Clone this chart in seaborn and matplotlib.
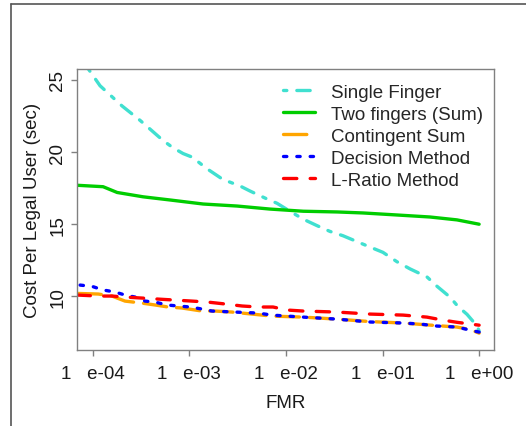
import numpy as np
import matplotlib
matplotlib.use("Agg")
import matplotlib.pyplot as plt
import seaborn as sns
from matplotlib.lines import Line2D

sns.set_style("white")
plt.rcParams['font.family'] = ['Liberation Sans', 'DejaVu Sans']

# values (FMR on log scale, cost in seconds)
single_fmr = [8.93e-5, 1.19e-4, 2.01e-4, 3.09e-4, 5.35e-4, 6.78e-4, 8.61e-4, 1.07e-3,
              1.52e-3, 2.23e-3, 3.35e-3, 4.25e-3, 6.37e-3, 8.09e-3, 1.10e-2, 1.51e-2,
              2.10e-2, 2.86e-2, 3.90e-2, 6.92e-2, 0.101, 0.141, 0.193, 0.288, 0.366,
              0.499, 0.604, 0.750, 0.95, 1.0]
single_cost = [25.8, 24.6, 23.2, 22.2, 20.8, 20.3, 19.9, 19.65, 18.85, 18.1, 17.65, 17.3,
               16.75, 16.45, 15.9, 15.35, 14.9, 14.5, 14.2, 13.5, 13.05, 12.4, 11.9, 11.35,
               10.7, 9.95, 9.3, 8.75, 7.95, 7.6]

two_fmr = [6.88e-5, 1.28e-4, 1.79e-4, 3.32e-4, 6.31e-4, 1.39e-3, 3.12e-3, 6.84e-3,
           1.51e-2, 3.38e-2, 6.28e-2, 0.141, 0.310, 0.590, 1.0]
two_cost = [17.7, 17.6, 17.2, 16.9, 16.68, 16.4, 16.26, 16.05, 15.9, 15.85, 15.78, 15.64,
            15.5, 15.3, 15.0]

cont_fmr = [7.05e-5, 1.14e-4, 1.58e-4, 2.16e-4, 3.24e-4, 4.42e-4, 6.03e-4, 8.40e-4,
            1.35e-3, 1.85e-3, 2.77e-3, 4.46e-3, 7.18e-3, 1.51e-2, 3.38e-2, 7.43e-2,
            0.163, 0.366, 0.590, 0.805, 1.0]
cont_cost = [10.2, 10.16, 10.02, 9.67, 9.53, 9.4, 9.26, 9.19, 8.98, 8.98, 8.91, 8.77,
             8.63, 8.56, 8.42, 8.25, 8.15, 7.97, 7.87, 7.7, 7.45]

dec_fmr = [7.40e-5, 9.84e-5, 1.28e-4, 1.70e-4, 2.16e-4, 2.74e-4, 3.48e-4, 4.42e-4,
           5.87e-4, 7.64e-4, 1.02e-3, 1.35e-3, 1.72e-3, 2.97e-3, 5.14e-3, 7.18e-3,
           1.03e-2, 1.51e-2, 3.38e-2, 7.43e-2, 0.163, 0.244, 0.366, 0.590, 0.805, 1.0]
dec_cost = [10.78, 10.69, 10.44, 10.3, 10.09, 9.95, 9.67, 9.6, 9.4, 9.33, 9.26, 9.12,
            8.98, 8.91, 8.84, 8.7, 8.63, 8.56, 8.42, 8.22, 8.15, 8.08, 7.94, 7.87, 7.66, 7.52]

lr_fmr = [6.88e-5, 1.14e-4, 1.58e-4, 2.16e-4, 3.24e-4, 4.74e-4, 7.11e-4, 1.07e-3,
          1.56e-3, 2.34e-3, 3.52e-3, 5.14e-3, 7.35e-3, 1.03e-2, 1.51e-2, 3.38e-2,
          7.43e-2, 0.163, 0.288, 0.423, 0.590, 1.0]
lr_cost = [10.09, 10.02, 10.02, 9.95, 9.88, 9.81, 9.74, 9.67, 9.6, 9.47, 9.33, 9.26,
           9.26, 9.05, 8.98, 8.91, 8.77, 8.7, 8.56, 8.35, 8.2, 8.0]

xticks = [1e-4, 1e-3, 1e-2, 1e-1, 1e0]
xtick_labels = ["1   e-04", "1   e-03", "1   e-02", "1   e-01", "1   e+00"]
yticks = [10, 15, 20, 25]

series = [
    ("Single Finger", single_fmr, single_cost, "#40E0D0", (0, (1, 3, 4, 3))),
    ("Two fingers (Sum)", two_fmr, two_cost, "#00CD00", "-"),
    ("Contingent Sum", cont_fmr, cont_cost, "#FFA500", (0, (7, 3))),
    ("Decision Method", dec_fmr, dec_cost, "#0000FF", (0, (1, 3))),
    ("L-Ratio Method", lr_fmr, lr_cost, "#FF0000", (0, (4, 4))),
]

fs = 13.5
fig = plt.figure(figsize=(5.26, 4.27), dpi=100)
ax = fig.add_axes([76.7 / 526, 1 - 351 / 427, (494 - 76.7) / 526, (351 - 70) / 427])

for name, xs, ys, col, ls in series:
    sns.lineplot(x=xs, y=ys, ax=ax, color=col, linewidth=2.4, linestyle=ls,
                 label=name, sort=False, estimator=None,
                 dash_capstyle="round", solid_capstyle="round")

ax.set_xscale("log")
ax.set_xlim(10 ** -4.166, 10 ** 0.154)
ax.set_ylim(6.28, 25.76)
ax.set_xticks(xticks)
ax.set_xticklabels(xtick_labels)
ax.minorticks_off()
ax.set_yticks(yticks)
ax.set_yticklabels([str(v) for v in yticks], rotation=90, va="center")

for s in ax.spines.values():
    s.set_color("#808080")
    s.set_linewidth(1.0)
ax.tick_params(axis="both", length=4.5, width=1.0, color="#808080",
               labelsize=fs, labelcolor="#1a1a1a", left=True, bottom=True)
ax.tick_params(axis="x", pad=6)
ax.tick_params(axis="y", pad=3)

ax.set_xlabel("FMR", fontsize=fs, color="#1a1a1a", labelpad=9)
ax.set_ylabel("Cost Per Legal User (sec)", fontsize=fs, color="#1a1a1a", labelpad=6)

ax.legend(loc="upper left", bbox_to_anchor=(0.494, 0.947), frameon=False,
          fontsize=fs, handlelength=1.7, handletextpad=0.85, labelspacing=0.26,
          borderpad=0, borderaxespad=0)

# outer screenshot frame
fig.add_artist(Line2D([10.7 / 526, 10.7 / 526], [0, 1 - 4.7 / 427],
                      transform=fig.transFigure, color="#555555", linewidth=1.2))
fig.add_artist(Line2D([10.7 / 526, 1], [1 - 4.7 / 427, 1 - 4.7 / 427],
                      transform=fig.transFigure, color="#555555", linewidth=1.2))

fig.savefig("out.png", dpi=100)
